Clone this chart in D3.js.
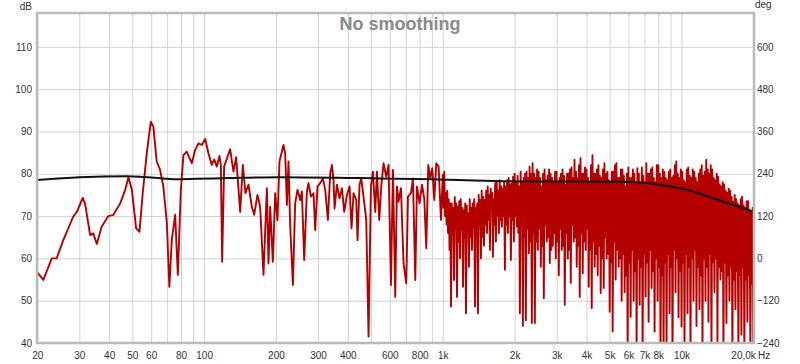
<!DOCTYPE html>
<html>
<head>
<meta charset="utf-8">
<script src="https://cdn.jsdelivr.net/npm/d3@7"></script>
<style>
body { margin: 0; background: #fff; }
svg text { font-family: "Liberation Sans", Arial, sans-serif; }
</style>
</head>
<body>
<svg id="chart" width="800" height="364"></svg>
<script>
var lfFreq = [20, 21.2, 23.0, 24.1, 25.7, 28.3, 29.3, 31.0, 31.7, 33.3, 34.3, 35.5, 37.2, 39.7, 41.7, 44.5, 46.7, 48.2, 49.8, 51.9,
	53.6, 55.3, 57.5, 59.8, 61.3, 63.3, 65.4, 67.5, 69.8, 71.5, 73.2, 75.6, 77.6, 79.9, 81.9, 84.6, 88.8, 91.7, 94.7, 97.8,
	101.0, 104.3, 107.7, 110.2, 113.1, 115.9, 117.5, 119.0, 121.3, 128.5, 132.7, 136.2, 141.6, 145.3, 149.0, 153.4, 158.5, 162.1, 167.3, 171.7,
	177.3, 183.2, 186.1, 189.1, 194.1, 198.5, 202.9, 206.9, 211.7, 215.0, 218.6, 222.2, 225.7, 229.4, 235.5, 240.7, 246.2, 252.7, 256.8, 262.6,
	269.5, 273.7, 280.2, 287.3, 292.0, 298.6, 306.5, 314.6, 321.6, 330.1, 337.5, 343.1, 348.5, 351.9, 360.1, 369.3, 377.9, 386.4, 396.6, 406.7,
	414.6, 422.7, 433.9, 439.3, 447.9, 455.3, 465.5, 477.8, 488.6, 500.0, 509.7, 521.2, 529.8, 541.7, 552.3, 564.7, 579.6, 592.6, 606.5, 618.3,
	632.1, 642.6, 652.6, 667.9, 684.9, 703.0, 714.6, 735.6, 749.9, 766.8, 779.5, 799.3, 818.0, 836.3, 852.6, 869.3, 886.2, 903.5, 921.1, 939.1,
	960.2, 982.7];
var lfSpl = [56.7, 54.9, 60.0, 60.0, 64.3, 69.9, 71.0, 74.3, 73.0, 65.5, 65.9, 63.4, 67.5, 70.0, 70.3, 73.0, 76.2, 79.2, 76.2, 67.1,
	66.3, 75.4, 84.8, 92.3, 91.1, 82.9, 80.9, 77.0, 68.3, 53.3, 64.3, 70.3, 56.1, 76.2, 84.4, 85.2, 82.5, 85.6, 87.2, 86.8,
	88.2, 84.8, 82.1, 83.4, 81.7, 84.2, 82.1, 59.2, 81.7, 85.8, 80.5, 83.9, 71.0, 82.1, 75.4, 77.4, 72.2, 70.3, 75.0, 72.2,
	56.1, 76.6, 58.8, 72.2, 59.2, 75.4, 69.0, 82.9, 85.2, 86.8, 84.8, 72.6, 82.9, 67.9, 53.7, 73.0, 76.2, 73.8, 75.8, 59.6,
	75.8, 77.8, 74.6, 75.4, 66.7, 77.0, 77.8, 78.9, 76.2, 69.1, 80.1, 82.1, 78.5, 71.8, 77.4, 74.2, 76.6, 71.0, 75.0, 77.0,
	67.1, 75.4, 73.8, 64.3, 77.4, 78.9, 74.6, 69.1, 41.5, 77.0, 80.5, 71.0, 80.5, 69.1, 77.0, 82.5, 79.3, 82.1, 53.7, 80.9,
	50.9, 77.0, 73.4, 76.6, 58.8, 54.1, 74.6, 75.4, 78.9, 54.9, 77.0, 73.0, 77.4, 74.2, 62.4, 82.1, 78.9, 81.3, 73.8, 82.5,
	81.7, 69.1];

// from 1 kHz up the trace is exported at 96 points per octave
var hfStart = 1000;
var hfPPO = 96;
var hfSpl = [
	79.7, 72, 80.5, 70,  75.4, 68, 76, 66,  74, 62, 73, 48.6,  73, 66, 72, 54.9,  74.5, 67, 73, 50.9,
	72.2, 64, 73.5, 60,  74, 66.7, 72, 53.3,  71.4, 65, 73, 47,  72.5, 66, 70.7, 58,  74, 65.1, 72, 62,
	73, 67.5, 74, 48.6,  72, 66, 73, 47,  75, 68, 73.8, 60,  76, 65.1, 74.5, 63,  73.8, 68, 76, 66,
	77, 69.1, 75, 62,  76.5, 71.4, 75.5, 60.4,  74, 68, 77.8, 64,  78, 70, 76, 66,  78.5, 69, 77, 67.5,
	76.5, 70, 78, 57.3,  77, 68, 78.5, 66,  79, 70, 77.5, 59.6,  77.8, 69, 79.3, 64,  80, 70, 78, 67.5,
	79.5, 66, 77, 47,  80.5, 68, 78, 44,  79, 65, 80, 45.4,  80.5, 67, 79, 61.2,  81.7, 64, 80, 44.7,
	82.5, 66, 80, 44.7,  79, 64, 81, 62,  80.5, 67, 79, 58,  77, 63, 80, 50.6,  81, 68, 78.5, 64,
	79.5, 65, 81, 58.9,  80, 62, 79, 63,  78, 66, 80.5, 60,  80.5, 64, 78, 56,  79, 67, 80, 62,
	81, 63, 79.5, 49,  77.5, 66, 80, 60,  80, 62, 81, 54.2,  81.5, 68, 79, 64,  83.3, 65, 80.5, 58,
	79, 63, 82, 50.9,  83.7, 66, 80, 56.5,  80, 64, 81.5, 62,  81, 67, 79, 53.3,  78, 62, 82, 48.2,
	84.4, 64, 80, 58,  80, 61, 81, 56,  82, 63, 79.5, 51.8,  79, 60, 81, 53,  82.5, 65, 80, 60,
	80.5, 61, 78.5, 47.4,  78, 59, 80.5, 42.7,  80.5, 64, 82, 55,  82.5, 62, 79, 58,  79, 60, 81, 50,
	81, 61, 79.5, 52,  77, 56, 80, 37,  81.5, 59, 79, 46.2,  79, 62, 81, 50,  80, 57, 78, 38,
	81.3, 60, 80, 49,  78, 58, 81.5, 36,  79.5, 61, 78, 51,  82.5, 59, 80, 45,  80, 62, 81, 53,
	81.5, 57, 79, 42.7,  78, 60, 82, 50,  82, 58, 80, 36,  79, 56, 81, 37,  80.5, 59, 79, 38,
	78.5, 61, 80.5, 47,  81, 58, 79, 36,  79.5, 62, 82, 52,  82.9, 60, 80, 46,  79, 57, 81, 43.9,
	80.5, 59, 78.5, 38,  78, 61, 81, 47,  81.5, 58, 79.5, 36,  79, 60, 81, 50,  80.5, 62, 79, 44,
	78, 58, 80, 48,  81, 56, 82, 37,  79.5, 60, 80.5, 50,  83.3, 58, 81, 45,  80, 61, 82, 38,
	81, 59, 79, 52,  78.5, 60, 80, 40,  79.3, 58, 77.5, 55,  77, 57, 78, 37,  77.5, 59, 76, 44.7,
	75.5, 56, 76.5, 50,  76, 58, 74.5, 36,  73.4, 55, 75, 48,  74, 57, 73, 37,  72.5, 56, 74, 42,
	74.6, 58, 72.5, 36,  72, 55, 73.5, 45,  73.5, 56, 71.5, 37,  71, 54, 72, 36];

// smooth black trace
var refFreq = [20, 30.2, 47.4, 67.3, 74.1, 93.2, 128.5, 208, 547, 1041, 2113, 5038, 6929, 8710, 10564, 12817, 15546, 17678, 20000];
var refSpl = [78.5, 79.2, 79.4, 78.9, 78.7, 78.8, 79.0, 79.2, 78.9, 78.6, 78.2, 78.1, 77.9, 77.1, 76.2, 74.7, 73.1, 72.1, 71.0];

var gridFreq = [20, 30, 40, 50, 60, 70, 80, 90, 100, 200, 300, 400, 500, 600, 700, 800, 900, 1000,
	2000, 3000, 4000, 5000, 6000, 7000, 8000, 9000, 10000, 20000];
var xTicks = [20, 30, 40, 50, 60, 80, 100, 200, 300, 400, 600, 800, 1000, 2000, 3000, 4000, 5000, 6000, 7000, 8000, 10000, 20000];
var xTickLabels = ["20", "30", "40", "50", "60", "80", "100", "200", "300", "400", "600", "800", "1k", "2k", "3k", "4k", "5k", "6k", "7k", "8k", "10k", "20,0k"];
var dbTicks = [40, 50, 60, 70, 80, 90, 100, 110];
var degTicks = [-240, -120, 0, 120, 240, 360, 480, 600];

(function () {
	var svg = d3.select("#chart");
	var top = 13, bottom = 343, left = 37, right = 754;

	var x = d3.scaleLog().domain([20, 20000]).range([37.3, 753.3]);
	var y = d3.scaleLinear().domain([40, 118]).range([bottom, top]);
	var yDeg = d3.scaleLinear().domain([-240, 696]).range([bottom, top]);

	var redData = lfFreq.map(function (f, i) { return [f, lfSpl[i]]; })
		.concat(hfSpl.map(function (v, i) { return [hfStart * Math.pow(2, i / hfPPO), v]; }));
	var refData = refFreq.map(function (f, i) { return [f, refSpl[i]]; });

	svg.append("clipPath").attr("id", "plot-clip")
		.append("rect").attr("x", left).attr("y", top).attr("width", right - left).attr("height", bottom - top);

	// grid
	var gx = svg.append("g").attr("transform", "translate(0," + bottom + ")")
		.call(d3.axisBottom(x).tickValues(gridFreq).tickSize(-(bottom - top)).tickFormat(""));
	var gy = svg.append("g").attr("transform", "translate(" + left + ",0)")
		.call(d3.axisLeft(y).tickValues(dbTicks.slice(1)).tickSize(-(right - left)).tickFormat(""));
	[gx, gy].forEach(function (g) {
		g.select(".domain").remove();
		g.selectAll("line").attr("stroke", "#d2d2d2").attr("stroke-width", 1);
	});

	var line = d3.line()
		.x(function (d) { return x(d[0]); })
		.y(function (d) { return y(d[1]); });

	var traces = svg.append("g").attr("clip-path", "url(#plot-clip)");
	traces.append("path")
		.datum(redData)
		.attr("d", line)
		.attr("fill", "none")
		.attr("stroke", "#b40000")
		.attr("stroke-width", 1.9)
		.attr("stroke-linejoin", "round");
	traces.append("path")
		.datum(refData)
		.attr("d", line.curve(d3.curveMonotoneX))
		.attr("fill", "none")
		.attr("stroke", "#111")
		.attr("stroke-width", 2);

	// frame
	svg.append("rect")
		.attr("x", left).attr("y", top)
		.attr("width", right - left).attr("height", bottom - top)
		.attr("fill", "none").attr("stroke", "#bababa").attr("stroke-width", 2.5);

	// axes labels
	var styleAxis = function (g) {
		g.select(".domain").remove();
		g.selectAll("line").remove();
		g.selectAll("text").attr("fill", "#333").style("font-size", "10px");
	};
	svg.append("g").attr("transform", "translate(" + left + ",0)")
		.call(d3.axisLeft(y).tickValues(dbTicks).tickSize(0).tickPadding(5))
		.call(styleAxis);
	svg.append("g").attr("transform", "translate(" + right + ",0)")
		.call(d3.axisRight(yDeg).tickValues(degTicks).tickSize(0).tickPadding(3))
		.call(styleAxis);
	var xa = svg.append("g").attr("transform", "translate(0," + bottom + ")")
		.call(d3.axisBottom(x).tickValues(xTicks).tickSize(0).tickPadding(9)
			.tickFormat(function (d, i) { return xTickLabels[i]; }))
		.call(styleAxis);
	xa.selectAll("text").filter(function (d) { return d === 20000; })
		.attr("text-anchor", "end").attr("dx", 2);

	svg.append("text").attr("x", 32).attr("y", 10).attr("text-anchor", "end")
		.attr("fill", "#333").style("font-size", "10px").text("dB");
	svg.append("text").attr("x", 755).attr("y", 8)
		.attr("fill", "#333").style("font-size", "10px").text("deg");
	svg.append("text").attr("x", 758).attr("y", 359)
		.attr("fill", "#333").style("font-size", "10px").text("Hz");

	svg.append("text")
		.attr("x", 400).attr("y", 30)
		.attr("text-anchor", "middle")
		.attr("fill", "#8a8a8a")
		.style("font-size", "18px").style("font-weight", "bold")
		.text("No smoothing");
})();
</script>
</body>
</html>
